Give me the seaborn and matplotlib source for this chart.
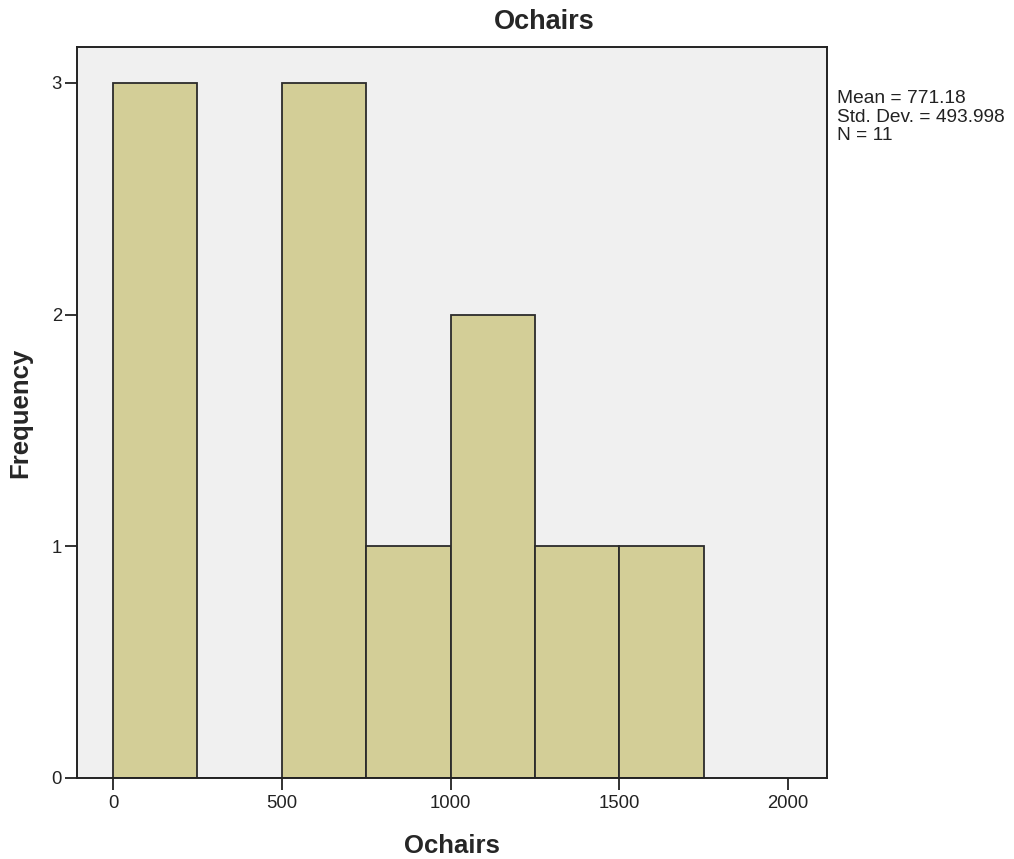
import matplotlib
matplotlib.use('Agg')
import matplotlib.pyplot as plt
import seaborn as sns
import pandas as pd

# Histogram of Ochairs, bin width 250
bin_edges = [0, 250, 500, 750, 1000, 1250, 1500, 1750]
bin_counts = [3, 0, 3, 1, 2, 1, 1]
x_ticks = [0, 500, 1000, 1500, 2000]
y_ticks = [0, 1, 2, 3]
stats_lines = ['Mean = 771.18', 'Std. Dev. = 493.998', 'N = 11']

bin_mids = [(a + b) / 2 for a, b in zip(bin_edges[:-1], bin_edges[1:])]
df = pd.DataFrame({'Ochairs': bin_mids, 'count': bin_counts})

sns.set_style('ticks')
plt.rcParams['font.family'] = ['Liberation Sans', 'DejaVu Sans']

fig = plt.figure(figsize=(10.14, 8.59), dpi=100)
ax = fig.add_axes([0.0756, 0.0943, 0.7396, 0.851])
ax.set_facecolor('#f0f0f0')

sns.histplot(data=df, x='Ochairs', weights='count', bins=bin_edges,
             color='#d3ce97', edgecolor='#2b2b2b', linewidth=1.3,
             alpha=1, ax=ax)

ax.set_xlim(-108, 2114)
ax.set_ylim(0, 3.155)
ax.set_xticks(x_ticks)
ax.set_yticks(y_ticks)
ax.tick_params(axis='both', direction='out', length=8.5, width=1.3,
               colors='#222222', labelsize=13.3, labelcolor='#222222')
ax.tick_params(axis='y', pad=2)
ax.tick_params(axis='x', pad=4)
for s in ax.spines.values():
    s.set_linewidth(1.4)
    s.set_color('#222222')

ax.set_xlabel('Ochairs', fontsize=18.5, fontweight='bold')
ax.set_ylabel('Frequency', fontsize=18.5, fontweight='bold')
ax.xaxis.set_label_coords(0.5, -0.077)
ax.yaxis.set_label_coords(-0.0596, 0.5)

ax.text(0.624, 1.0335, 'Ochairs', transform=ax.transAxes, ha='center',
        va='center', fontsize=19.5, fontweight='bold')

fig.text(837 / 1014, 1 - 90 / 859, '\n'.join(stats_lines), ha='left',
         va='top', fontsize=13.8, linespacing=1.12, color='#222222')

fig.savefig('out.png', dpi=100)
